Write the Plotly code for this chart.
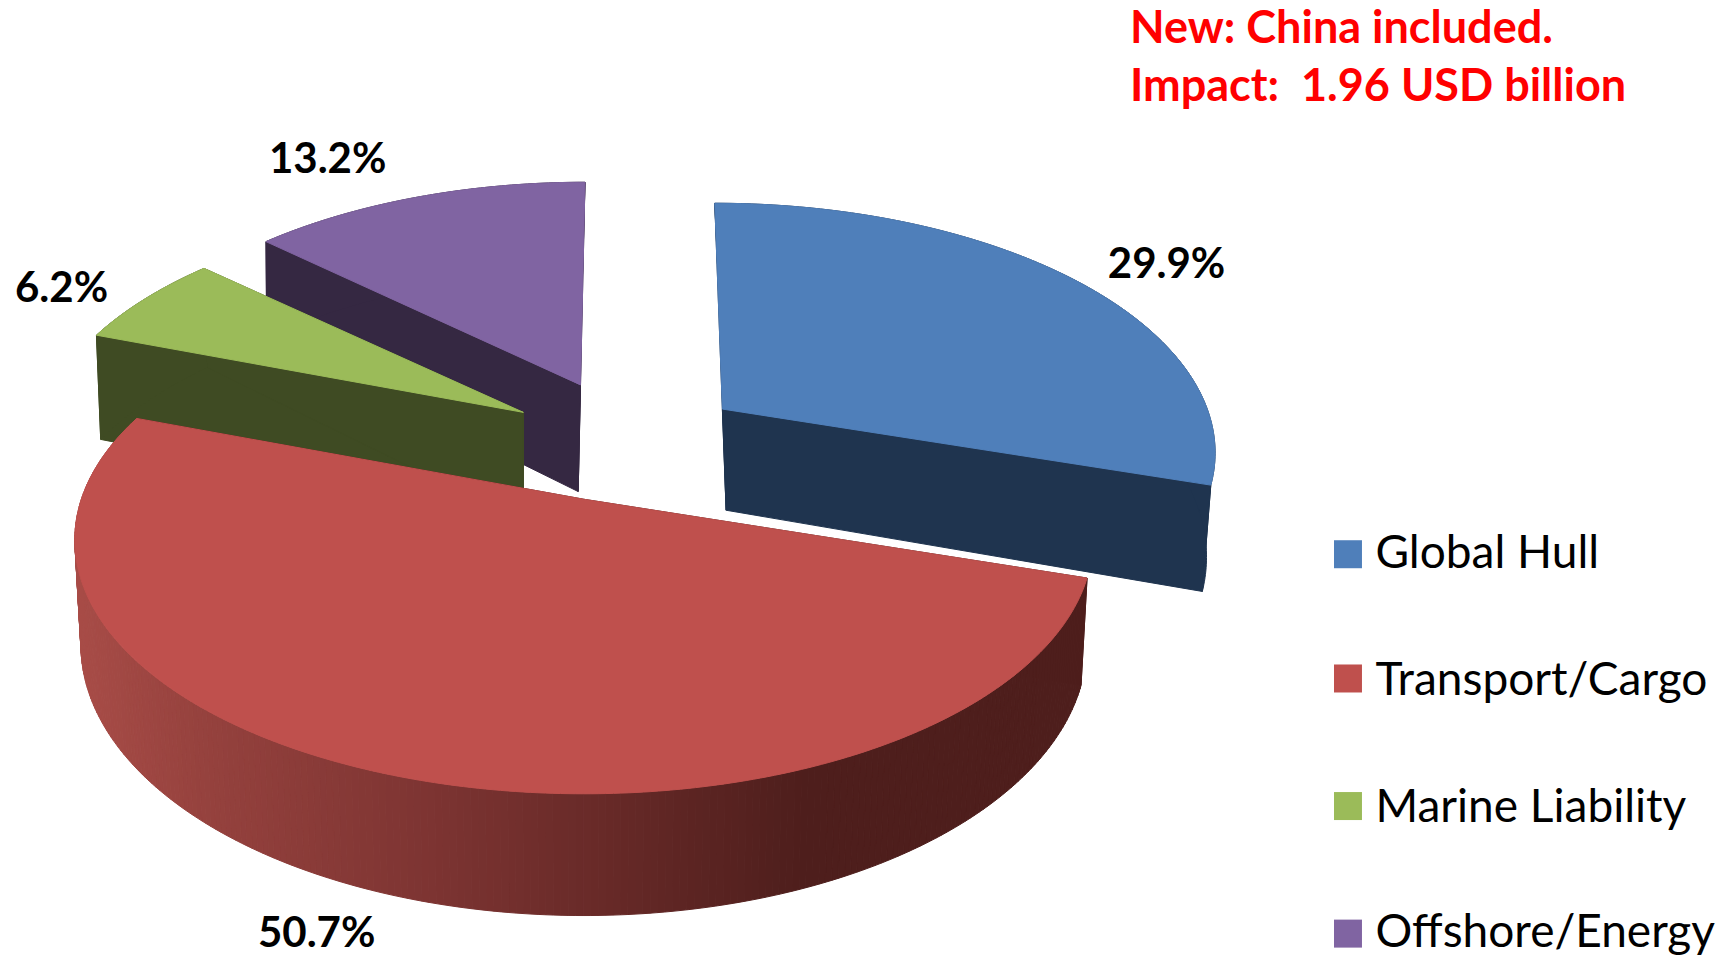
import numpy as np
import plotly.graph_objects as go

# Market shares by line of business (percent)
categories = ["Global Hull", "Transport/Cargo", "Marine Liability", "Offshore/Energy"]
shares = [29.9, 50.7, 6.2, 13.2]
note_lines = ["New: China included.", "Impact:  1.96 USD billion"]

# Colours of the top faces and the dark sides
top_colors = ["#4F7FBA", "#BF504D", "#9BBB59", "#8064A2"]
side_colors = ["#1F344F", "#4E1E1C", "#3F4B23", "#352842"]

# Scene geometry in axis units: oblique view of a disc with mild perspective
WIDTH, HEIGHT = 1724, 960
X_SPAN, Y_SPAN = 1568, 873
DISC_A, DISC_B, PERSP = 457.0, 225.0, 0.16
# Apex of each exploded slice, its size factor, slab depth and the lean of its vertical edges
apex_pos = [(657, 372), (531, 454), (476, 375), (528, 350)]
slice_scale = [0.965, 1.0, 0.955, 0.95]
slice_depth = [92, 93, 100, 97]
slice_shear = [0.037, 0.0, 0.0, -0.022]
taper = [0.975, 0.988, 0.99, 0.99]
draw_order = [3, 2, 0, 1]

# Rim shading of the large slice, running left to right across its width
rim_pos = [0.0, 0.12, 0.35, 0.55, 0.72, 1.0]
rim_rgb = [(168, 76, 71), (150, 66, 62), (125, 52, 50), (100, 40, 38), (78, 30, 28), (78, 30, 28)]

# Percentage label anchors and legend rows
label_pos = [(1061, 243), (288, 852), (56, 265), (298, 148)]
legend_x, legend_text_x = 1226, 1251
legend_y = [504, 617, 733, 849]
legend_text_y = [506, 622, 737, 851]

FONT = "Lato, Carlito, Calibri, sans-serif"


def top_point(i, theta):
    """Project a rim angle (clockwise from north) of slice i onto the top face."""
    X, Y = np.sin(theta), -np.cos(theta)
    w = 1 - PERSP * Y
    s = slice_scale[i]
    dx, dy = DISC_A * X / w * s, DISC_B * Y / w * s
    return apex_pos[i][0] + dx + slice_shear[i] * dy, apex_pos[i][1] + dy, w


def bottom_point(i, theta):
    """The same rim angle on the lower face of the slab."""
    x, y, w = top_point(i, theta)
    ax = apex_pos[i][0]
    return ax + taper[i] * (x - ax) + slice_shear[i] * slice_depth[i], y + slice_depth[i] / w


fractions = np.cumsum([0] + shares) / sum(shares)
edges = 2 * np.pi * fractions
fig = go.Figure()


def add_poly(points, color, name):
    fig.add_trace(go.Scatter(
        x=[p[0] for p in points], y=[p[1] for p in points],
        mode="lines", fill="toself", fillcolor=color,
        line=dict(color=color, width=1, simplify=False), hoverinfo="skip",
        showlegend=False, name=name,
    ))


for i in draw_order:
    thetas = np.linspace(edges[i], edges[i + 1], max(8, int(shares[i] * 5)))
    top = [top_point(i, t)[:2] for t in thetas]
    bottom = [bottom_point(i, t) for t in thetas]
    ax, ay = apex_pos[i]
    apex_top = (ax, ay)
    apex_bottom = (ax + slice_shear[i] * slice_depth[i], ay + slice_depth[i])
    label = categories[i]

    # The two radial cut faces
    add_poly([apex_top, top[0], bottom[0], apex_bottom, apex_top], side_colors[i], f"{label} cut")
    add_poly([apex_top, top[-1], bottom[-1], apex_bottom, apex_top], side_colors[i], f"{label} cut")

    if i == 1:
        # The large slice gets a left-to-right gradient along its rim
        x_min, x_max = min(p[0] for p in top), max(p[0] for p in top)
        for k in range(len(top) - 1):
            u = (0.5 * (top[k][0] + top[k + 1][0]) - x_min) / (x_max - x_min)
            c = [np.interp(u, rim_pos, [r[j] for r in rim_rgb]) for j in range(3)]
            color = "rgb({:.0f},{:.0f},{:.0f})".format(*c)
            add_poly([top[k], top[k + 1], bottom[k + 1], bottom[k], top[k]], color, f"{label} rim")
    else:
        add_poly(top + bottom[::-1] + [top[0]], side_colors[i], f"{label} rim")

    # Top face
    add_poly([apex_top] + top + [apex_top], top_colors[i], label)

# Percentage labels
fig.add_trace(go.Scatter(
    x=[p[0] for p in label_pos], y=[p[1] for p in label_pos], mode="text",
    text=[f"{v:.1f}%" for v in shares], textposition="middle center",
    textfont=dict(family=FONT, size=42, color="#000000", weight="bold"),
    hoverinfo="skip", showlegend=False, name="shares",
))

# Legend rows: colour swatch and category name
fig.add_trace(go.Scatter(
    x=[legend_x] * len(categories), y=legend_y, mode="markers",
    marker=dict(symbol="square", size=28, color=top_colors, line=dict(width=0)),
    hoverinfo="skip", showlegend=False, name="legend swatches",
))
fig.add_trace(go.Scatter(
    x=[legend_text_x] * len(categories), y=legend_text_y, mode="text",
    text=categories, textposition="middle right",
    textfont=dict(family=FONT, size=46, color="#000000"),
    hoverinfo="skip", showlegend=False, name="legend names",
))

# Red note in the top right corner
notes = [
    dict(x=1026, y=y, text=line, xref="x", yref="y", xanchor="left", yanchor="middle",
         showarrow=False, font=dict(family=FONT, size=45, color="#FF0000", weight="bold"))
    for line, y in zip(note_lines, [24, 76])
]

fig.update_layout(
    width=WIDTH, height=HEIGHT, margin=dict(l=0, r=0, t=0, b=0),
    paper_bgcolor="white", plot_bgcolor="white", showlegend=False,
    xaxis=dict(range=[0, X_SPAN], visible=False, fixedrange=True),
    yaxis=dict(range=[Y_SPAN, 0], visible=False, fixedrange=True),
    annotations=notes,
)

fig.write_html("out.html", config=dict(displayModeBar=False))
